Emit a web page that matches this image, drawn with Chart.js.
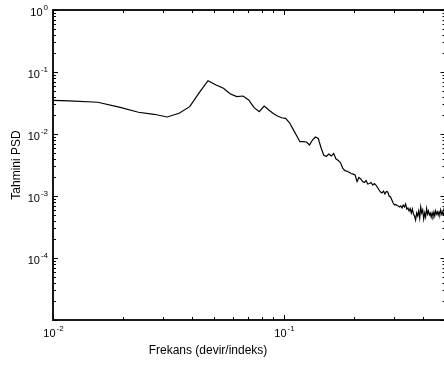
<!DOCTYPE html>
<html>
<head>
<meta charset="utf-8">
<script src="https://cdn.jsdelivr.net/npm/chart.js@4/dist/chart.umd.min.js"></script>
<style>
  html, body { margin: 0; padding: 0; background: #fff; overflow: hidden; }
  #wrap { width: 447px; height: 365px; }
</style>
</head>
<body>
<div id="wrap"><canvas id="psdChart" width="447" height="365"></canvas></div>
<script>
// FFT length: frequencies are k / nfft, k = 1..128
const nfft = 256;

// estimated PSD, one value per frequency bin
const psd = [
  0.0381, 0.0360, 0.0343, 0.0325, 0.0268, 0.0224, 0.0208, 0.0188,
  0.0216, 0.0276, 0.0464, 0.0724, 0.0617, 0.0546, 0.0442, 0.0400,
  0.0410, 0.0354, 0.0266, 0.0229, 0.0283, 0.0244, 0.0214, 0.0195,
  0.0183, 0.0179, 0.0153, 0.0120, 0.00946, 0.00751, 0.00751, 0.00743,
  0.00665, 0.00800, 0.00895, 0.00846, 0.00606, 0.00458, 0.00434, 0.00476,
  0.00442, 0.00485, 0.00395, 0.00374, 0.00341, 0.00278, 0.00256, 0.00251,
  0.00241, 0.00231, 0.00225, 0.00218, 0.00171, 0.00199, 0.00188, 0.00171,
  0.00165, 0.00177, 0.00156, 0.00159, 0.00165, 0.00150, 0.00159, 0.00150,
  0.00137, 0.00125, 0.00116, 0.00112, 0.00120, 0.00108, 0.00118, 0.00116,
  0.00100, 0.000964, 0.000862, 0.000771, 0.000716, 0.000729, 0.000703, 0.000690,
  0.000665, 0.000690, 0.000641, 0.000716, 0.000665, 0.000743, 0.000617, 0.000641,
  0.000573, 0.000629, 0.000532, 0.000617, 0.000513, 0.000476, 0.000410, 0.000532,
  0.000476, 0.000573, 0.000442, 0.000665, 0.000532, 0.000595, 0.000426, 0.000532,
  0.000458, 0.000629, 0.000513, 0.000573, 0.000494, 0.000532, 0.000458, 0.000532,
  0.000476, 0.000552, 0.000476, 0.000573, 0.000513, 0.000552, 0.000494, 0.000552,
  0.000513, 0.000595, 0.000513, 0.000552, 0.000494, 0.000573, 0.000513, 0.000532
];

const xRange = [0.01, 0.5];
const yRange = [1e-5, 1];
const xDecades = [-2, -1];
const yDecades = [0, -1, -2, -3, -4];

const xTitle = "Frekans (devir/indeks)";
const yTitle = "Tahmini PSD";

document.addEventListener("DOMContentLoaded", function () {

  const points = psd.map(function (v, i) {
    return { x: (i + 1) / nfft, y: v };
  });

  const font = "Liberation Sans, Arial, Helvetica, sans-serif";

  // 10^n with a raised exponent
  function powerLabel(ctx, n, x, y, align) {
    const base = "10";
    const exp = String(n);
    ctx.font = "11px " + font;
    const wb = ctx.measureText(base).width;
    ctx.font = "8px " + font;
    const we = ctx.measureText(exp).width;
    let left;
    if (align === "right") left = x - wb - we;
    else left = x - (wb + we) / 2;
    ctx.textAlign = "left";
    ctx.textBaseline = "alphabetic";
    ctx.font = "11px " + font;
    ctx.fillText(base, left, y);
    ctx.font = "8px " + font;
    ctx.fillText(exp, left + wb + 1, y - 6);
  }

  const axesBox = {
    id: "axesBox",
    afterDraw: function (chart) {
      const ctx = chart.ctx;
      const a = chart.chartArea;
      const xs = chart.scales.x;
      const ys = chart.scales.y;
      ctx.save();
      ctx.strokeStyle = "#000";
      ctx.fillStyle = "#000";

      // frame
      ctx.lineWidth = 1.8;
      ctx.strokeRect(a.left, a.top, a.right - a.left, a.bottom - a.top);

      // inward ticks
      ctx.lineWidth = 1;
      ctx.beginPath();
      for (let d = -2; d <= -1; d++) {
        for (let m = 1; m <= 9; m++) {
          const v = m * Math.pow(10, d);
          if (v < xRange[0] || v > xRange[1]) continue;
          const px = Math.round(xs.getPixelForValue(v)) + 0.5;
          const len = m === 1 ? 5 : 3;
          ctx.moveTo(px, a.bottom); ctx.lineTo(px, a.bottom - len);
          ctx.moveTo(px, a.top); ctx.lineTo(px, a.top + len);
        }
      }
      for (let d = -5; d <= 0; d++) {
        for (let m = 1; m <= 9; m++) {
          const v = m * Math.pow(10, d);
          if (v < yRange[0] || v > yRange[1]) continue;
          const py = Math.round(ys.getPixelForValue(v)) + 0.5;
          const len = m === 1 ? 5 : 3;
          ctx.moveTo(a.left, py); ctx.lineTo(a.left + len, py);
          ctx.moveTo(a.right, py); ctx.lineTo(a.right - len, py);
        }
      }
      ctx.stroke();

      // tick labels
      xDecades.forEach(function (n) {
        const px = xs.getPixelForValue(Math.pow(10, n));
        powerLabel(ctx, n, px, a.bottom + 17, "center");
      });
      yDecades.forEach(function (n) {
        const py = ys.getPixelForValue(Math.pow(10, n));
        powerLabel(ctx, n, a.left - 6, py + 5.5, "right");
      });

      // axis titles
      ctx.font = "12px " + font;
      ctx.textAlign = "center";
      ctx.textBaseline = "alphabetic";
      ctx.fillText(xTitle, 208, 354);
      ctx.save();
      ctx.translate(20, (a.top + a.bottom) / 2);
      ctx.rotate(-Math.PI / 2);
      ctx.fillText(yTitle, 0, 0);
      ctx.restore();

      ctx.restore();
    }
  };

  new Chart(document.getElementById("psdChart"), {
    type: "line",
    data: {
      datasets: [{
        data: points,
        borderColor: "#000",
        borderWidth: 1.2,
        pointRadius: 0,
        fill: false,
        tension: 0
      }]
    },
    options: {
      responsive: false,
      animation: false,
      devicePixelRatio: 1,
      layout: { padding: { left: 53, top: 10, right: 1.5, bottom: 45 } },
      plugins: {
        legend: { display: false },
        tooltip: { enabled: false }
      },
      scales: {
        x: { type: "logarithmic", min: xRange[0], max: xRange[1], display: false },
        y: { type: "logarithmic", min: yRange[0], max: yRange[1], display: false }
      }
    },
    plugins: [axesBox]
  });

});
</script>
</body>
</html>
